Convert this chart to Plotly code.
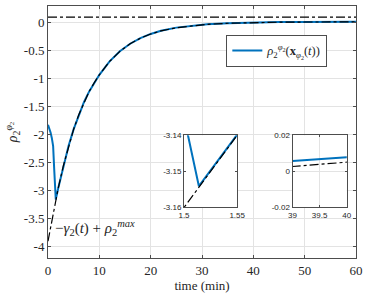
import plotly.graph_objects as go

# ---- data ----
t_bound = [0, 1.5, 1.55, 2, 3, 4, 5, 6, 7, 8, 9, 10, 12, 14, 16, 18, 20, 22, 25, 28,
           31, 35, 39, 40, 45, 50, 55, 60]
bound_vals = [-3.90, -3.16, -3.14, -2.95, -2.55, -2.20, -1.90, -1.64, -1.42, -1.23, -1.07,
              -0.93, -0.69, -0.51, -0.375, -0.275, -0.20, -0.145, -0.088, -0.052,
              -0.028, -0.008, 0.0027, 0.0051, 0.011, 0.014, 0.0155, 0.016]

t_rho = [0, 0.25, 0.5, 0.75, 1.0, 1.2, 1.4, 1.5037, 1.514, 1.55, 2, 3, 4, 5, 6, 7, 8, 9,
         10, 12, 14, 16, 18, 20, 22, 25, 28, 31, 35, 39, 40, 45, 50, 55, 60]
rho_vals = [-1.82, -1.88, -1.96, -2.06, -2.20, -2.60, -2.98, -3.14, -3.1541, -3.1398,
            -2.949, -2.549, -2.199, -1.899, -1.639, -1.419, -1.229, -1.069, -0.929,
            -0.689, -0.509, -0.374, -0.274, -0.199, -0.143, -0.086, -0.050, -0.026,
            -0.006, 0.0058, 0.0078, 0.0130, 0.0160, 0.0175, 0.0180]

rho_max = 0.1
t_span = [0, 60]

main_xticks = [0, 10, 20, 30, 40, 50, 60]
main_yticks = [0, -0.5, -1, -1.5, -2, -2.5, -3, -3.5, -4]
main_yticktext = ["0", "-0.5", "-1", "-1.5", "-2", "-2.5", "-3", "-3.5", "-4"]

in1_xticks = [1.5, 1.55]
in1_yticks = [-3.14, -3.15, -3.16]
in1_yticktext = ["-3.14", "-3.15", "-3.16"]
in2_xticks = [39, 39.5, 40]
in2_yticks = [0.02, 0, -0.02]
in2_yticktext = ["0.02", "0", "-0.02"]

BLUE = "#0072BD"
SERIF = "Liberation Serif, Times New Roman, DejaVu Serif, serif"
SANS = "Liberation Sans, Arial, sans-serif"
AX = "#4d4d4d"

fig = go.Figure()

# main axes traces
fig.add_trace(go.Scatter(x=t_rho, y=rho_vals, mode="lines",
                         line=dict(color=BLUE, width=2),
                         name="<i>ρ</i><sub>2</sub><sup><i>φ</i><sub>2</sub></sup>(<b>x</b><sub><i>φ</i><sub>2</sub></sub>(<i>t</i>))",
                         showlegend=True))
fig.add_trace(go.Scatter(x=t_bound, y=bound_vals, mode="lines",
                         line=dict(color="black", width=1.2, dash="dashdot"),
                         showlegend=False))
fig.add_trace(go.Scatter(x=t_span, y=[rho_max, rho_max], mode="lines",
                         line=dict(color="black", width=1.2, dash="dashdot"),
                         showlegend=False))

# inset 1
fig.add_trace(go.Scatter(x=t_rho, y=rho_vals, mode="lines", xaxis="x2", yaxis="y2",
                         line=dict(color=BLUE, width=2), showlegend=False))
fig.add_trace(go.Scatter(x=t_bound, y=bound_vals, mode="lines", xaxis="x2", yaxis="y2",
                         line=dict(color="black", width=1.2, dash="dashdot"), showlegend=False))
# inset 2
fig.add_trace(go.Scatter(x=t_rho, y=rho_vals, mode="lines", xaxis="x3", yaxis="y3",
                         line=dict(color=BLUE, width=2), showlegend=False))
fig.add_trace(go.Scatter(x=t_bound, y=bound_vals, mode="lines", xaxis="x3", yaxis="y3",
                         line=dict(color="black", width=1.2, dash="dashdot"), showlegend=False))

main_ax = dict(showline=True, linecolor=AX, linewidth=1, mirror="ticks", ticks="inside",
               ticklen=3, tickcolor=AX, showgrid=True, gridcolor="#e3e3e3", gridwidth=1,
               zeroline=False, tickfont=dict(family=SERIF, size=13, color="#262626"))
inset_ax = dict(showline=True, linecolor=AX, linewidth=1, mirror="ticks", ticks="inside",
                ticklen=2, tickcolor=AX, zeroline=False,
                tickfont=dict(family=SANS, size=8, color="#262626"))

fig.update_layout(
    width=366, height=295,
    margin=dict(l=48, r=9, t=2, b=37),
    paper_bgcolor="white", plot_bgcolor="white",
    xaxis=dict(domain=[0, 1], range=[0, 60], tickvals=main_xticks,
               title=dict(text="time (min)", font=dict(family=SERIF, size=13, color="#262626"), standoff=1),
               **main_ax),
    yaxis=dict(domain=[0, 1], range=[-4.2, 0.3], tickvals=main_yticks, ticktext=main_yticktext,
               title=dict(text="<i>ρ</i><sub>2</sub><sup><i>φ</i><sub>2</sub></sup>",
                          font=dict(family=SERIF, size=14, color="#262626"), standoff=2),
               **main_ax),
    xaxis2=dict(domain=[0.4416, 0.6143], anchor="y2", range=[1.5, 1.55], tickvals=in1_xticks,
                showgrid=False, **inset_ax),
    yaxis2=dict(domain=[0.2004, 0.487], anchor="x2", range=[-3.16, -3.14], tickvals=in1_yticks,
                ticktext=in1_yticktext, showgrid=False, **inset_ax),
    xaxis3=dict(domain=[0.794, 0.970], anchor="y3", range=[39, 40], tickvals=in2_xticks,
                showgrid=True, gridcolor="#e3e3e3", **inset_ax),
    yaxis3=dict(domain=[0.2004, 0.487], anchor="x3", range=[-0.02, 0.02], tickvals=in2_yticks,
                ticktext=in2_yticktext, showgrid=True, gridcolor="#e3e3e3", **inset_ax),
    legend=dict(x=0.579, y=0.885, xanchor="left", yanchor="top",
                bordercolor=AX, borderwidth=1, bgcolor="white",
                font=dict(family=SERIF, size=12.5, color="#262626"),
                itemwidth=30, tracegroupgap=0),
    annotations=[dict(x=1.0, y=-3.67, xref="x", yref="y", xanchor="left", yanchor="middle",
                      showarrow=False,
                      text="−<i>γ</i><sub>2</sub>(<i>t</i>) + <i>ρ</i><sub>2</sub><sup><i>max</i></sup>",
                      font=dict(family=SERIF, size=15, color="#262626"))],
    showlegend=True,
)

fig.write_html("out.html", config={"displayModeBar": False},
               post_script="document.body.style.margin='0';document.body.style.overflow='hidden';")
